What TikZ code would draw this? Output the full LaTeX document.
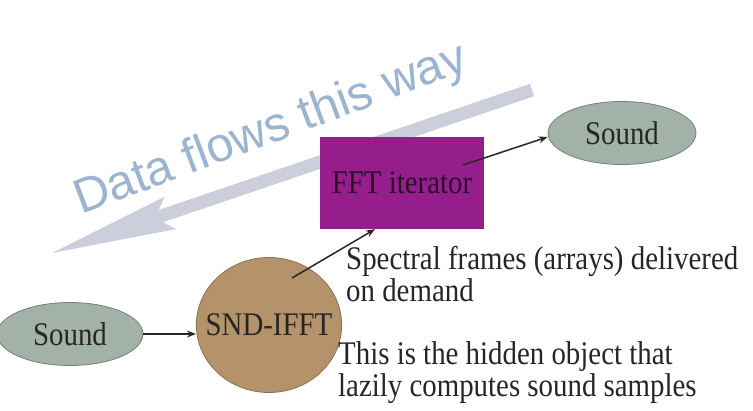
\documentclass[tikz,border=0pt]{standalone}
\usepackage{fontspec}
\setmainfont{Liberation Serif}[FakeStretch=0.875]
\newfontfamily\flowfont{Liberation Sans}
\usetikzlibrary{arrows.meta,shapes.geometric,calc}
\definecolor{flowarrow}{RGB}{204,206,219}
\definecolor{flowtext}{RGB}{155,181,208}
\definecolor{fftpurple}{RGB}{150,30,140}
\definecolor{soundfill}{RGB}{163,178,168}
\definecolor{soundline}{RGB}{115,128,120}
\definecolor{ifftfill}{RGB}{181,147,106}
\definecolor{ifftline}{RGB}{140,112,82}
\definecolor{ink}{RGB}{38,38,38}
\definecolor{boxink}{RGB}{40,15,40}
\begin{document}
\begin{tikzpicture}[x=1pt,y=-1pt,
  every node/.style={font=\fontsize{33}{33}\selectfont, text=ink},
  soundnode/.style={ellipse, draw=soundline, line width=0.8pt, fill=soundfill,
    minimum width=148pt, minimum height=63pt, inner sep=0pt},
  iterbox/.style={rectangle, fill=fftpurple, minimum width=164pt,
    minimum height=92pt, inner sep=0pt, text=boxink},
  ifftnode/.style={ellipse, draw=ifftline, line width=0.8pt, fill=ifftfill,
    minimum width=144pt, minimum height=135pt, inner xsep=-12pt, inner ysep=0pt},
  note/.style={anchor=north west, align=left, inner sep=0pt,
    font=\fontsize{33}{32}\selectfont},
  arr/.style={draw=ink, line width=1.5pt, -{Stealth[length=9pt,width=7pt]}}
]
\useasboundingbox (0,0) rectangle (753,410);
\fill[white] (0,0) rectangle (753,410);

% big "data flow" arrow
\fill[flowarrow] (529.9,83.85) -- (158.7,210.0) -- (164.5,196.8) -- (52,253)
  -- (176.1,229.0) -- (162.9,222.3) -- (534.1,96.15) -- cycle;
\node[anchor=base west, rotate=20.5, inner sep=0pt, text=flowtext,
  font=\flowfont\fontsize{48.5}{48.5}\selectfont] (flow) at (81,215) {Data flows this way};

% nodes
\node[iterbox] (fft) at (402,183) {FFT iterator};
\node[soundnode] (sndTop) at (622,133) {Sound};
\node[soundnode, minimum width=146pt] (sndBot) at (70,334) {Sound};
\node[ifftnode] (ifft) at (269,325) {SND-IFFT};

% connectors
\draw[arr] (sndBot.east) -- (sndBot.east -| ifft.west);
\draw[arr] ($(ifft.center)+(23,-47)$) -- ([xshift=-27pt]fft.south);
\draw[arr] ($(fft.center)+(61,-18)$) -- ([yshift=-4pt]sndTop.west);

% notes
\node[note] (spec) at (346,246) {Spectral frames (arrays) delivered\\on demand};
\node[note] (hidden) at (338,341.5) {This is the hidden object that\\lazily computes sound samples};
\end{tikzpicture}
\end{document}
